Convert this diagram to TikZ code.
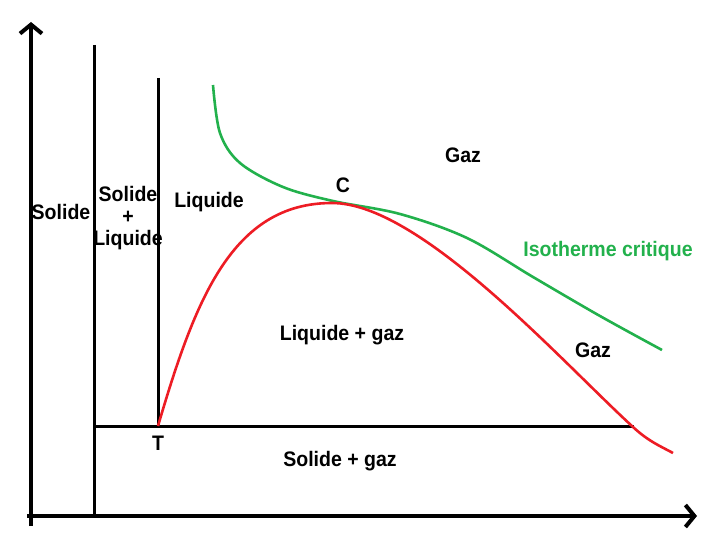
\documentclass[tikz,border=0pt]{standalone}
\usepackage{fontspec}
\setmainfont[FakeStretch=0.93]{Liberation Sans}
\usetikzlibrary{arrows.meta}
\definecolor{pred}{HTML}{ED1C24}
\definecolor{pgreen}{HTML}{22B14C}
\begin{document}
\begin{tikzpicture}[x=1pt,y=-1pt,
  axis/.style={line width=4.5pt,-{Straight Barb[length=9pt,width=22pt,line width=4pt]}},
  phaseline/.style={line width=3pt},
  lbl/.style={font=\fontsize{21}{24}\selectfont\bfseries,inner sep=0pt},
  redcurve/.style={pred,line width=2.6pt,line join=round},
  greencurve/.style={pgreen,line width=2.6pt,line join=round}]
\useasboundingbox (0,0) rectangle (712,537);
% axes
\coordinate (yb) at (31,526);
\coordinate (yt) at (31,22);
\coordinate (xl) at (27,516);
\coordinate (xr) at (697,516);
\draw[axis] (yb) -- (yt);
\draw[axis] (xl) -- (xr);
% phase lines
\coordinate (v1t) at (94,45);
\coordinate (v1b) at (94,516);
\coordinate (v2t) at (158,78);
\coordinate (T) at (158,426);
\coordinate (hl) at (94,426);
\coordinate (hr) at (634,426);
\draw[phaseline] (v1t) -- (v1b);
\draw[phaseline] (v2t) -- (T);
\draw[phaseline] (hl) -- (hr);
% critical isotherm
\draw[greencurve] plot[smooth,tension=0.55] coordinates {(213,85) (220,133) (240,163) (283,187) (333,201) (400,214) (467,238) (533,277) (600,316) (662,350)};
% coexistence curve
\coordinate (C) at (332,203);
\coordinate (R1) at (633,427);
\coordinate (R2) at (673,453);
\draw[redcurve] (T) .. controls (195,300) and (232,203) .. (C)
  .. controls (420,203) and (560,360) .. (R1)
  .. controls (648,441) and (660,446) .. (R2);
% labels
\node[lbl] (solide) at (61,212) {Solide};
\node[lbl,align=center] (solliq) at (128,218) {Solide\\[-2pt]+\\[-2pt]Liquide};
\node[lbl] (liquide) at (209,202) {Liquide};
\node[lbl] (Clbl) at (343,185) {C};
\node[lbl] (gaz1) at (463,155) {Gaz};
\node[lbl,text=pgreen] (iso) at (608,251) {Isotherme critique};
\node[lbl] (lg) at (342,335) {Liquide + gaz};
\node[lbl] (gaz2) at (593,350) {Gaz};
\node[lbl] (Tlbl) at (158,443) {T};
\node[lbl] (sg) at (340,461) {Solide + gaz};
\end{tikzpicture}
\end{document}
